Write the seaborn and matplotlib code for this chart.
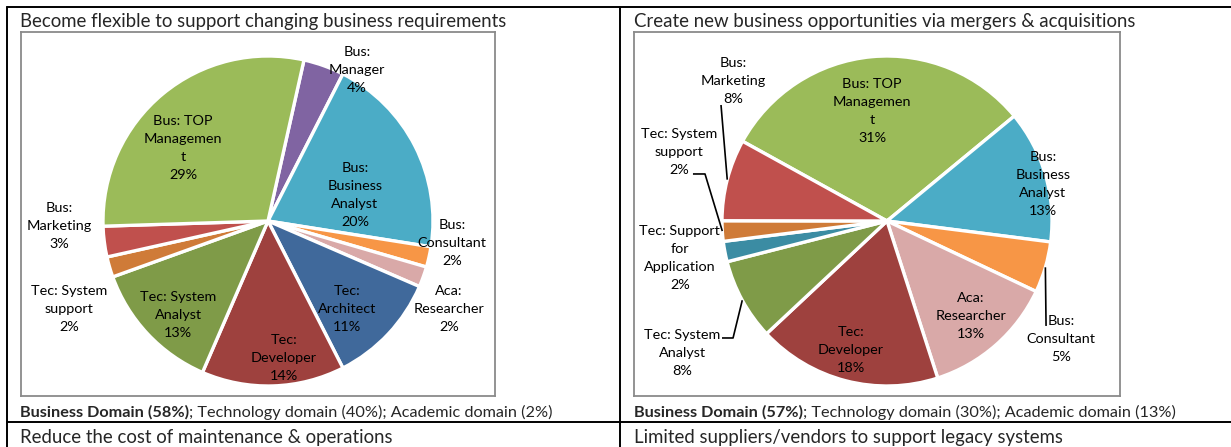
import numpy as np
import matplotlib
matplotlib.use("Agg")
import matplotlib.pyplot as plt
import seaborn as sns

sns.set_style("white")
plt.rcParams['font.family'] = ['Lato', 'DejaVu Sans']

# ============================================================
# DATA
# ============================================================
left_title = "Become flexible to support changing business requirements"
left_cats = ["Bus:\nManager", "Bus:\nBusiness\nAnalyst", "Bus:\nConsultant", "Aca:\nResearcher",
             "Tec:\nArchitect", "Tec:\nDeveloper", "Tec: System\nAnalyst", "Tec: System\nsupport",
             "Bus:\nMarketing", "Bus: TOP\nManagemen\nt"]
left_values = [4, 20, 2, 2, 11, 14, 13, 2, 3, 29]
left_colors = ["#8064A2", "#4BACC6", "#F79646", "#D9A9A8", "#40699B",
               "#9E413E", "#7F9B48", "#CF7B38", "#C0504D", "#9BBB59"]
left_footer_bold = "Business Domain (58%)"
left_footer_rest = "; Technology domain (40%); Academic domain (2%)"

right_title = "Create new business opportunities via mergers & acquisitions"
right_cats = ["Bus: TOP\nManagemen\nt", "Bus:\nBusiness\nAnalyst", "Bus:\nConsultant", "Aca:\nResearcher",
              "Tec:\nDeveloper", "Tec: System\nAnalyst", "Tec: Support\nfor\nApplication",
              "Tec: System\nsupport", "Bus:\nMarketing"]
right_values = [31, 13, 5, 13, 18, 8, 2, 2, 8]
right_colors = ["#9BBB59", "#4BACC6", "#F79646", "#D9A9A8", "#9E413E",
                "#7F9B48", "#3B8CA3", "#CF7B38", "#C0504D"]
right_footer_bold = "Business Domain (57%)"
right_footer_rest = "; Technology domain (30%); Academic domain (13%)"

bottom_titles = ["Reduce the cost of maintenance & operations",
                 "Limited suppliers/vendors to support legacy systems"]

# label placement (pie units, radius = 1)
left_label_pos = [(0.54, 0.915), (0.527, 0.158), (1.115, -0.133), (1.097, -0.533),
                  (0.479, -0.533), (0.097, -0.83), (-0.545, -0.57), (-1.206, -0.533),
                  (-1.267, -0.03), (-0.515, 0.442)]
right_label_pos = [(-0.09, 0.667), (0.945, 0.224), (1.055, -0.715), (0.509, -0.576),
                   (-0.218, -0.782), (-1.242, -0.8), (-1.255, -0.224), (-1.26, 0.418),
                   (-0.933, 0.848)]
# leader lines: slice index -> points from label towards the slice edge
right_leaders = {2: [(0.964, -0.636)],
                 5: [(-1.0, -0.709), (-0.933, -0.709)],
                 7: [(-1.176, 0.285), (-1.103, 0.285)],
                 8: [(-1.006, 0.703)]}

W, H = 1231, 447
fig = plt.figure(figsize=(W / 100, H / 100), dpi=100)

# background axes in pixel coordinates for the table frame and texts
bg = fig.add_axes([0, 0, 1, 1])
bg.set_xlim(0, W)
bg.set_ylim(H, 0)
bg.axis('off')

lw_tab = 1.4
bg.plot([7, 7], [7, H], color='black', lw=lw_tab)
bg.plot([619.5, 619.5], [7, H], color='black', lw=lw_tab)
bg.plot([7, W], [7, 7], color='black', lw=lw_tab)
bg.plot([7, W], [422, 422], color='black', lw=lw_tab)

title_fs = 13.4
foot_fs = 11.7
bg.text(20, 27, left_title, fontsize=title_fs, va='baseline', ha='left')
bg.text(634, 27, right_title, fontsize=title_fs, va='baseline', ha='left')
bg.text(20, 443, bottom_titles[0], fontsize=title_fs, va='baseline', ha='left')
bg.text(634, 443, bottom_titles[1], fontsize=title_fs, va='baseline', ha='left')

for x0, fb, fr in [(20, left_footer_bold, left_footer_rest), (634, right_footer_bold, right_footer_rest)]:
    tb = bg.text(x0, 417, fb, fontsize=foot_fs, fontweight='bold', va='baseline', ha='left')
    bg.annotate(fr, xy=(1, 0), xycoords=tb, fontsize=foot_fs, va='bottom', ha='left')

R_PX = 165.0


def draw_pie(center, box, values, cats, colors, start, label_pos, leaders):
    cx, cy = center
    x0, y0, x1, y1 = box
    ax = fig.add_axes([x0 / W, 1 - y1 / H, (x1 - x0) / W, (y1 - y0) / H])
    wedges, _ = ax.pie(values, colors=sns.color_palette(colors), startangle=start,
                       counterclock=False, radius=1.0,
                       wedgeprops=dict(edgecolor='white', linewidth=2.4))
    ax.set_aspect('auto')
    ax.set_xlim((x0 - cx) / R_PX, (x1 - cx) / R_PX)
    ax.set_ylim((cy - y1) / R_PX, (cy - y0) / R_PX)
    ax.set_frame_on(True)
    for sp in ax.spines.values():
        sp.set_visible(True)
        sp.set_color('#8a8a8a')
        sp.set_linewidth(1.3)
    ax.set_xticks([])
    ax.set_yticks([])

    for cat, v, (lx, ly) in zip(cats, values, label_pos):
        ax.text(lx, ly, f"{cat}\n{v}%", ha='center', va='center', fontsize=10.4,
                linespacing=1.62, color='black')

    for idx, pts in leaders.items():
        w = wedges[idx]
        mid = np.deg2rad((w.theta1 + w.theta2) / 2)
        xs = [p[0] for p in pts] + [np.cos(mid) * w.r]
        ys = [p[1] for p in pts] + [np.sin(mid) * w.r]
        ax.plot(xs, ys, color='black', lw=1.2, solid_capstyle='butt')
    return ax


draw_pie((268, 221), (21, 32, 495, 396), left_values, left_cats, left_colors,
         90 - 12.6, left_label_pos, {})
draw_pie((887, 221), (634, 32, 1120, 396), right_values, right_cats, right_colors,
         90 + 61.1, right_label_pos, right_leaders)

fig.savefig('out.png', dpi=100)
